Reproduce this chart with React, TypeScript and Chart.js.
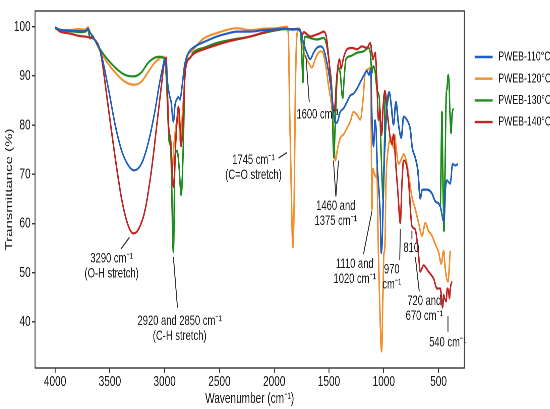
import React, { useEffect, useRef } from 'react';
import { Chart, registerables } from 'chart.js';

Chart.register(...registerables);

// the reference picture is squeezed horizontally, so the chart is drawn wide and scaled down
const SQUEEZE = 0.67;
const FULL_W = 550 / SQUEEZE;
const FULL_H = 409;
const FONT = "'Liberation Sans', Arial, sans-serif";

const xTicks = [4000, 3500, 3000, 2500, 2000, 1500, 1000, 500];
const yTicks = [40, 50, 60, 70, 80, 90, 100];

const seriesNames = ['PWEB-110°C', 'PWEB-120°C', 'PWEB-130°C', 'PWEB-140°C'];
const seriesColors = ['#1f5fc4', '#f28e2b', '#1e8c1e', '#c02424'];
// lower number = drawn on top
const drawOrder = [0, 3, 2, 1];

// [wavenumber, transmittance %]
const pweb110: [number, number][] = [
  [4000, 99.8], [3954, 99.4], [3863, 99.2], [3772, 99.1], [3726, 99.1], [3699, 99.6], [3680, 98.8], [3640, 97.4],
  [3600, 95.8], [3574, 94.0], [3513, 87.4], [3452, 80.1], [3391, 74.7], [3331, 71.8], [3280, 70.8], [3213, 72.1],
  [3153, 76.1], [3090, 82.7], [3045, 88.7], [3015, 92.0], [2999, 93.4], [2985, 91.5], [2970, 88.0], [2955, 86.0],
  [2941, 84.7], [2920, 80.7], [2905, 84.2], [2890, 85.2], [2874, 85.7], [2860, 85.2], [2849, 86.4], [2835, 89.0],
  [2819, 92.0], [2800, 93.8], [2783, 94.7], [2722, 96.0], [2630, 97.0], [2524, 98.0], [2430, 98.6], [2341, 99.0],
  [2219, 99.0], [2100, 99.3], [1975, 99.5], [1900, 99.6], [1830, 99.4], [1780, 99.5], [1760, 99.0], [1733, 96.7],
  [1702, 94.7], [1671, 93.4], [1641, 94.7], [1610, 95.7], [1580, 96.0], [1549, 95.4], [1519, 92.7], [1489, 88.7],
  [1464, 84.1], [1443, 80.4], [1422, 80.7], [1397, 82.7], [1367, 83.4], [1336, 84.7], [1306, 86.0], [1276, 86.4],
  [1245, 87.4], [1215, 88.7], [1184, 90.0], [1154, 91.0], [1135, 90.2], [1118, 91.4], [1107, 80.7], [1093, 75.7],
  [1080, 81.0], [1070, 79.0], [1060, 72.0], [1048, 68.1], [1032, 61.5], [1023, 54.0], [1012, 58.0], [1002, 68.1],
  [985, 78.0], [971, 84.1], [950, 86.7], [932, 84.1], [911, 80.1], [889, 84.7], [865, 80.1], [840, 77.4],
  [819, 81.7], [790, 81.1], [758, 79.1], [740, 75.4], [713, 73.4], [689, 70.8], [667, 65.1], [650, 66.8],
  [621, 66.9], [590, 66.8], [560, 66.1], [530, 64.5], [500, 64.1], [484, 63.5], [469, 61.8], [454, 60.5],
  [445, 62.0], [439, 66.1], [423, 68.8], [408, 68.4], [393, 68.1], [372, 72.1], [347, 71.8], [323, 72.1],
];

const pweb120: [number, number][] = [
  [4000, 99.9], [3954, 99.3], [3863, 99.3], [3790, 99.5], [3726, 99.4], [3699, 99.9], [3680, 98.8], [3640, 97.4],
  [3600, 95.5], [3544, 93.4], [3452, 90.7], [3361, 88.8], [3280, 88.2], [3213, 88.8], [3153, 90.7], [3090, 92.7],
  [3035, 93.7], [3008, 93.9], [2990, 92.0], [2978, 86.0], [2965, 80.1], [2945, 75.0], [2929, 71.4], [2915, 76.0],
  [2895, 80.1], [2874, 82.4], [2858, 76.7], [2845, 80.0], [2828, 85.4], [2806, 92.7], [2753, 95.0], [2650, 97.5],
  [2524, 98.7], [2341, 99.7], [2219, 99.3], [2100, 99.6], [1975, 99.7], [1884, 100.0], [1870, 98.0], [1860, 84.1],
  [1845, 68.0], [1830, 55.2], [1818, 64.1], [1808, 85.0], [1795, 97.5], [1780, 99.3], [1763, 99.0], [1748, 97.0],
  [1733, 95.0], [1718, 94.0], [1687, 92.7], [1656, 91.7], [1626, 93.4], [1596, 94.7], [1565, 95.0], [1534, 92.7],
  [1504, 88.0], [1473, 83.4], [1458, 79.4], [1443, 72.8], [1420, 75.4], [1397, 77.4], [1367, 78.1], [1336, 79.4],
  [1306, 80.7], [1276, 82.7], [1245, 82.1], [1215, 81.1], [1190, 85.0], [1169, 90.7], [1139, 91.4], [1124, 91.7],
  [1115, 80.0], [1108, 62.8], [1100, 71.1], [1085, 70.0], [1070, 69.4], [1064, 71.4], [1050, 55.0], [1035, 42.0],
  [1020, 34.0], [1008, 45.0], [999, 53.8], [990, 55.0], [980, 68.0], [962, 74.7], [932, 77.4], [911, 75.4],
  [900, 78.0], [889, 76.0], [865, 72.1], [834, 73.4], [819, 74.1], [795, 72.8], [774, 70.1], [743, 65.4],
  [713, 63.0], [682, 60.1], [651, 57.5], [621, 60.1], [591, 58.5], [560, 57.5], [530, 55.8], [500, 54.2],
  [475, 51.8], [454, 54.5], [439, 50.8], [414, 48.2], [393, 54.5],
];

const pweb130: [number, number][] = [
  [4000, 99.7], [3954, 99.3], [3863, 99.1], [3772, 98.9], [3726, 99.0], [3699, 99.3], [3680, 97.6], [3660, 98.2],
  [3640, 97.4], [3600, 95.8], [3544, 94.0], [3452, 91.7], [3361, 90.2], [3280, 89.9], [3213, 90.7], [3153, 92.6],
  [3090, 93.7], [3045, 93.9], [3015, 93.7], [2995, 92.5], [2980, 88.0], [2959, 76.7], [2945, 75.5], [2920, 54.2],
  [2905, 73.5], [2886, 74.8], [2870, 72.0], [2849, 65.8], [2831, 74.8], [2813, 91.4], [2767, 93.7], [2740, 94.7],
  [2630, 95.8], [2524, 96.7], [2400, 97.3], [2219, 98.0], [2100, 98.7], [1975, 99.3], [1900, 99.5], [1830, 99.5],
  [1780, 99.6], [1760, 99.2], [1746, 93.0], [1738, 88.7], [1730, 95.0], [1718, 98.0], [1671, 97.7], [1610, 97.4],
  [1549, 97.7], [1519, 96.0], [1495, 92.0], [1473, 86.7], [1456, 73.4], [1443, 80.0], [1428, 88.7], [1413, 91.7],
  [1397, 90.5], [1375, 85.5], [1360, 90.0], [1345, 93.4], [1306, 94.0], [1245, 94.7], [1184, 95.0], [1139, 95.7],
  [1123, 94.7], [1108, 90.7], [1095, 92.0], [1080, 91.0], [1060, 87.0], [1040, 85.4], [1025, 75.0], [1005, 64.8],
  [995, 75.0], [986, 86.7], [971, 84.1], [950, 86.7], [932, 84.1], [911, 80.1], [889, 84.7], [865, 80.1],
  [840, 77.4], [819, 81.7], [790, 81.1], [758, 79.1], [740, 75.4], [713, 73.4], [689, 70.8], [667, 65.1],
  [650, 66.8], [621, 66.9], [590, 66.8], [560, 66.1], [530, 64.5], [500, 64.1], [484, 63.5], [469, 82.7],
  [458, 66.0], [450, 58.5], [440, 72.0], [430, 86.0], [423, 87.4], [412, 90.2], [405, 89.0], [395, 82.0],
  [386, 78.4], [375, 82.5], [363, 83.4],
];

const pweb140: [number, number][] = [
  [4000, 99.8], [3954, 99.0], [3863, 98.6], [3772, 98.1], [3726, 98.0], [3699, 97.9], [3660, 97.7], [3640, 97.4],
  [3600, 96.0], [3574, 93.4], [3513, 83.4], [3452, 73.5], [3391, 64.8], [3331, 59.5], [3285, 58.0], [3239, 58.8],
  [3178, 62.8], [3117, 71.4], [3071, 80.1], [3026, 88.7], [3002, 93.0], [2986, 93.7], [2978, 90.0], [2965, 80.1],
  [2945, 77.0], [2920, 67.4], [2895, 78.1], [2874, 83.7], [2860, 80.0], [2849, 75.7], [2831, 81.5], [2813, 90.7],
  [2767, 93.7], [2740, 94.4], [2630, 95.5], [2524, 96.3], [2400, 97.1], [2219, 98.0], [2100, 98.8], [1975, 99.5],
  [1900, 99.6], [1830, 99.5], [1780, 99.5], [1763, 99.3], [1745, 98.3], [1730, 98.9], [1671, 98.0], [1626, 98.3],
  [1580, 98.7], [1549, 99.0], [1525, 98.0], [1504, 94.0], [1482, 88.7], [1464, 83.4], [1452, 82.7], [1428, 90.0],
  [1404, 93.4], [1390, 91.5], [1367, 93.7], [1336, 95.4], [1290, 95.7], [1245, 95.4], [1199, 96.0], [1154, 95.7],
  [1123, 96.7], [1110, 95.0], [1099, 93.4], [1078, 94.7], [1065, 90.0], [1048, 81.0], [1035, 83.0], [1020, 78.0],
  [1005, 84.0], [990, 87.0], [970, 83.0], [941, 77.4], [925, 76.1], [911, 78.1], [890, 72.0], [870, 66.0],
  [849, 60.1], [834, 68.1], [819, 72.8], [795, 72.1], [774, 68.8], [743, 59.5], [713, 58.8], [682, 53.5],
  [667, 50.2], [637, 51.5], [591, 50.2], [545, 48.8], [514, 46.8], [484, 46.8], [463, 42.9], [454, 45.5],
  [445, 44.8], [430, 44.2], [420, 46.8], [408, 46.2], [400, 44.8], [393, 46.8], [378, 48.2],
];

const seriesData = [pweb110, pweb120, pweb130, pweb140];

// band labels: centre of first text line and leader lines, in data units
const bandLabels: { x: number; y: number; lines: string[]; leaders: number[][] }[] = [
  { x: 3484, y: 52.9, lines: ['3290 cm⁻¹', '(O-H stretch)'], leaders: [[3400, 54.8, 3321, 57.2]] },
  { x: 2863, y: 40.2, lines: ['2920 and 2850 cm⁻¹', '(C-H stretch)'], leaders: [[2920, 53.2, 2883, 42.9]] },
  { x: 2189, y: 72.9, lines: ['1745 cm⁻¹', '(C=O stretch)'], leaders: [[1961, 73.3, 1884, 74.4]] },
  { x: 1603, y: 82.1, lines: ['1600 cm⁻¹'], leaders: [[1711, 94.2, 1680, 84.7]] },
  { x: 1438, y: 63.5, lines: ['1460 and', '1375 cm⁻¹'], leaders: [[1459, 72.8, 1437, 65.5], [1413, 72.8, 1437, 65.5]] },
  { x: 1265, y: 51.7, lines: ['1110 and', '1020 cm⁻¹'], leaders: [[1185, 53.8, 1108, 62.5]] },
  { x: 927, y: 50.6, lines: ['970', 'cm⁻¹'], leaders: [[854, 52.6, 849, 58.9]] },
  { x: 749, y: 55.0, lines: ['810'], leaders: [[743, 58.5, 743, 56.8]] },
  { x: 630, y: 44.2, lines: ['720 and', '670 cm⁻¹'], leaders: [[712, 53.2, 676, 46.2]] },
  { x: 416, y: 35.8, lines: ['540 cm⁻¹'], leaders: [[414, 41.2, 414, 38.0]] },
];

const framePlugin = {
  id: 'frame',
  afterDraw(chart: any) {
    const { ctx, chartArea: a } = chart;
    ctx.save();
    ctx.strokeStyle = '#333';
    ctx.lineWidth = 1.4;
    ctx.strokeRect(a.left, a.top, a.right - a.left, a.bottom - a.top);
    ctx.restore();
  },
};

const bandLabelPlugin = {
  id: 'bandLabels',
  afterDatasetsDraw(chart: any) {
    const { ctx, scales } = chart;
    const sx = scales.x;
    const sy = scales.y;
    ctx.save();
    ctx.font = `14px ${FONT}`;
    ctx.fillStyle = '#1a1a1a';
    ctx.textAlign = 'center';
    ctx.textBaseline = 'middle';
    ctx.strokeStyle = '#333';
    ctx.lineWidth = 1.4;
    for (const b of bandLabels) {
      const px = sx.getPixelForValue(b.x);
      const py = sy.getPixelForValue(b.y);
      b.lines.forEach((t, k) => ctx.fillText(t, px, py + k * 15));
      for (const [x1, y1, x2, y2] of b.leaders) {
        ctx.beginPath();
        ctx.moveTo(sx.getPixelForValue(x1), sy.getPixelForValue(y1));
        ctx.lineTo(sx.getPixelForValue(x2), sy.getPixelForValue(y2));
        ctx.stroke();
      }
    }
    ctx.restore();
  },
};

const sideLegendPlugin = {
  id: 'sideLegend',
  afterDraw(chart: any) {
    const { ctx, chartArea: a } = chart;
    ctx.save();
    ctx.font = `13px ${FONT}`;
    ctx.textBaseline = 'middle';
    ctx.textAlign = 'left';
    chart.data.datasets.forEach((ds: any, i: number) => {
      const y = a.top + 46 + i * 21.7;
      const x0 = a.right + 10.3 / SQUEEZE;
      ctx.strokeStyle = ds.borderColor;
      ctx.lineWidth = 2.4;
      ctx.beginPath();
      ctx.moveTo(x0, y);
      ctx.lineTo(x0 + 18 / SQUEEZE, y);
      ctx.stroke();
      ctx.fillStyle = '#1a1a1a';
      ctx.fillText(ds.label, x0 + 23.7 / SQUEEZE, y);
    });
    ctx.restore();
  },
};

const tickFont = { family: FONT, size: 15 };

export default function App() {
  const canvasRef = useRef<HTMLCanvasElement>(null);

  useEffect(() => {
    document.body.style.margin = '0';
    if (!canvasRef.current) return;

    const chart = new Chart(canvasRef.current, {
      type: 'line',
      data: {
        datasets: seriesData.map((pts, i) => ({
          label: seriesNames[i],
          data: pts.map(([x, y]) => ({ x, y })),
          borderColor: seriesColors[i],
          backgroundColor: seriesColors[i],
          borderWidth: 2.2,
          pointRadius: 0,
          fill: false,
          cubicInterpolationMode: 'monotone' as const,
          order: drawOrder[i],
        })),
      },
      options: {
        animation: false,
        responsive: true,
        maintainAspectRatio: false,
        devicePixelRatio: 2,
        layout: { padding: { left: 0, top: 4, right: FULL_W - 464 / SQUEEZE, bottom: 0 } },
        plugins: { legend: { display: false }, tooltip: { enabled: false } },
        scales: {
          x: {
            type: 'linear',
            reverse: true,
            min: 265,
            max: 4183,
            afterBuildTicks: (s: any) => { s.ticks = xTicks.map(v => ({ value: v })); },
            afterFit: (s: any) => { s.height = 41; },
            ticks: { font: tickFont, color: '#1a1a1a', padding: 0, maxRotation: 0, autoSkip: false, callback: (v: any) => String(v) },
            grid: { display: true, drawOnChartArea: false, drawTicks: true, tickLength: 5, color: '#333', lineWidth: 1.4 },
            border: { display: false },
            title: { display: true, text: 'Wavenumber (cm⁻¹)', font: tickFont, color: '#1a1a1a', padding: { top: 0, bottom: 1 } },
          },
          y: {
            type: 'linear',
            min: 30.64,
            max: 103.19,
            afterBuildTicks: (s: any) => { s.ticks = yTicks.map(v => ({ value: v })); },
            afterFit: (s: any) => { s.width = 35 / SQUEEZE; },
            ticks: { font: tickFont, color: '#1a1a1a', padding: 2, autoSkip: false, callback: (v: any) => String(v) },
            grid: { display: true, drawOnChartArea: false, drawTicks: true, tickLength: 4.5, color: '#333', lineWidth: 1.4 },
            border: { display: false },
            title: { display: true, text: 'Transmittance (%)', font: tickFont, color: '#1a1a1a', padding: { top: 4.8, bottom: 0 } },
          },
        },
      },
      plugins: [bandLabelPlugin, framePlugin, sideLegendPlugin],
    });

    return () => chart.destroy();
  }, []);

  return (
    <div style={{ position: 'relative', width: 550, height: FULL_H, overflow: 'hidden', background: '#fff' }}>
      <div
        style={{
          position: 'absolute',
          left: 0,
          top: 0,
          width: FULL_W,
          height: FULL_H,
          transform: `scaleX(${SQUEEZE})`,
          transformOrigin: '0 0',
        }}
      >
        <canvas ref={canvasRef} />
      </div>
    </div>
  );
}
